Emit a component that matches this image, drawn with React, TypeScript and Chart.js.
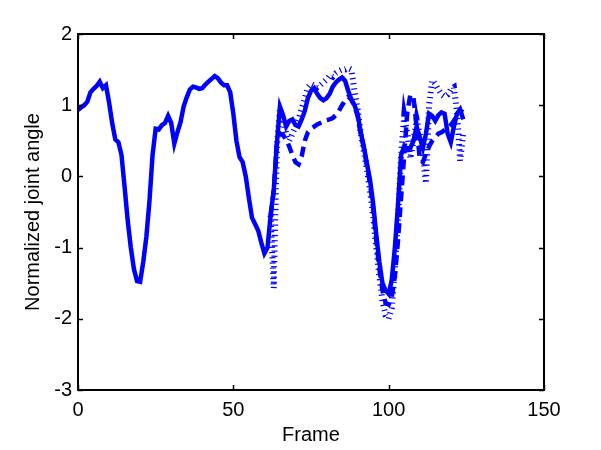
import React, { useEffect, useRef } from "react";
import { Chart, registerables } from "chart.js";

Chart.register(...registerables);

// ---- data ----
const truthStartFrame = 0;
const predictionStartFrame = 62;

const groundTruth = [
  0.93, 0.97, 1.0, 1.05, 1.18, 1.23, 1.27, 1.33, 1.24, 1.28,
  1.04, 0.75, 0.52, 0.48, 0.3, -0.15, -0.62, -1.0, -1.3, -1.47,
  -1.48, -1.2, -0.85, -0.35, 0.3, 0.67, 0.66, 0.72, 0.75, 0.85,
  0.75, 0.46, 0.62, 0.76, 0.98, 1.11, 1.22, 1.26, 1.25, 1.23,
  1.24, 1.29, 1.33, 1.37, 1.41, 1.38, 1.32, 1.28, 1.28, 1.18,
  0.88, 0.5, 0.27, 0.2, 0.0, -0.3, -0.58, -0.67, -0.76, -0.93,
  -1.08, -1.0, -0.55, -0.2, 0.45, 0.98, 0.86, 0.7, 0.78, 0.8,
  0.72, 0.7, 0.8, 0.92, 1.1, 1.2, 1.24, 1.16, 1.1, 1.07,
  1.1, 1.16, 1.26, 1.32, 1.36, 1.39, 1.34, 1.2, 1.08, 1.0,
  0.88, 0.62, 0.42, 0.18, -0.05, -0.38, -0.82, -1.2, -1.5, -1.6,
  -1.65, -1.45, -1.0, -0.4, 0.3, 0.42, 0.38, 0.4, 0.5, 0.7,
  0.55, 0.4, 0.6, 0.88, 0.85, 0.78, 0.86, 0.9, 0.88, 0.6,
  0.48, 0.7, 0.88, 0.94, 0.8,
];

const predictionDashed = [
  -0.55, -0.2, 0.45, 0.6, 0.58, 0.52, 0.42, 0.3,
  0.2, 0.17, 0.28, 0.5, 0.62, 0.67, 0.7, 0.73, 0.75, 0.77,
  0.79, 0.8, 0.82, 0.86, 0.92, 1.0, 1.07, 1.12, 1.08, 0.98,
  0.85, 0.6, 0.4, 0.15, -0.1, -0.45, -0.9, -1.3, -1.6, -1.78,
  -1.8, -1.7, -1.4, -0.9, -0.3, 0.3, 0.9, 1.15, 1.1, 0.7,
  0.25, 0.2, 0.32, 0.42, 0.5, 0.55, 0.6, 0.62, 0.65, 0.68,
  0.72, 0.78, 0.86, 0.92, 0.9,
];

const predictionDotted = [
  -0.55, -1.57, 0.4, 0.95, 0.8, 0.6, 0.5, 0.6,
  0.7, 0.8, 0.95, 1.1, 1.25, 1.3, 1.28, 1.25, 1.28, 1.32,
  1.36, 1.42, 1.4, 1.45, 1.48, 1.5, 1.5, 1.52, 1.5, 1.2,
  0.95, 0.6, 0.35, 0.1, -0.2, -0.55, -1.0, -1.4, -1.75, -1.95,
  -2.0, -1.85, -1.3, -0.6, 0.3, 0.85, 0.6, 0.25, 0.5, 0.8,
  0.6, 0.3, -0.1, 1.0, 1.35, 1.3, 1.22, 1.15, 1.12, 1.15,
  1.22, 1.25, 0.9, 0.22, 0.6,
];

const xTicks = [0, 50, 100, 150];
const yTicks = [-3, -2, -1, 0, 1, 2];
const xTitle = "Frame";
const yTitle = "Normalized joint angle";

function toPoints(start: number, values: number[]) {
  return values.map((v, i) => ({ x: start + i, y: v }));
}

const FONT_FAMILY = "'Liberation Sans', Arial, Helvetica, sans-serif";
const BLUE = "#0000ff";

const matlabAxes = {
  id: "matlabAxes",
  afterDatasetsDraw(chart: any) {
    const { ctx, chartArea, scales } = chart;
    const { left, right, top, bottom } = chartArea;
    const xs = scales.x;
    const ys = scales.y;
    ctx.save();
    ctx.strokeStyle = "#000";
    ctx.lineWidth = 1.5;
    ctx.beginPath();
    xTicks.forEach((t) => {
      const px = Math.round(xs.getPixelForValue(t)) + 0.5;
      ctx.moveTo(px, bottom);
      ctx.lineTo(px, bottom - 5);
      ctx.moveTo(px, top);
      ctx.lineTo(px, top + 5);
    });
    yTicks.forEach((t) => {
      const py = Math.round(ys.getPixelForValue(t)) + 0.5;
      ctx.moveTo(left, py);
      ctx.lineTo(left + 5, py);
      ctx.moveTo(right, py);
      ctx.lineTo(right - 5, py);
    });
    ctx.stroke();
    ctx.lineWidth = 2;
    ctx.strokeRect(left, top, right - left, bottom - top);
    ctx.restore();
  },
};

export default function App() {
  const canvasRef = useRef<HTMLCanvasElement | null>(null);

  useEffect(() => {
    const canvas = canvasRef.current;
    if (!canvas) return;
    const chart = new Chart(canvas, {
      type: "line",
      data: {
        datasets: [
          {
            label: "ground truth",
            data: toPoints(truthStartFrame, groundTruth),
            borderColor: BLUE,
            borderWidth: 4.5,
            pointRadius: 0,
            tension: 0,
            fill: false,
          },
          {
            label: "prediction A",
            data: toPoints(predictionStartFrame, predictionDashed),
            borderColor: BLUE,
            borderWidth: 4.5,
            borderDash: [10, 6],
            borderCapStyle: "butt",
            pointRadius: 0,
            tension: 0,
            fill: false,
          },
          {
            label: "prediction B",
            data: toPoints(predictionStartFrame, predictionDotted),
            borderColor: BLUE,
            borderWidth: 6,
            borderDash: [1.2, 4],
            borderCapStyle: "butt",
            pointRadius: 0,
            tension: 0,
            fill: false,
          },
        ],
      },
      options: {
        responsive: false,
        animation: false,
        devicePixelRatio: 1,
        layout: { padding: { left: 0, right: 57, top: 34, bottom: 0 } },
        plugins: {
          legend: { display: false },
          tooltip: { enabled: false },
        },
        scales: {
          x: {
            type: "linear",
            min: 0,
            max: 150,
            afterFit: (s: any) => {
              s.height = 60;
            },
            afterBuildTicks: (s: any) => {
              s.ticks = xTicks.map((v) => ({ value: v }));
            },
            ticks: {
              color: "#000",
              font: { family: FONT_FAMILY, size: 20 },
              padding: 8,
              maxRotation: 0,
            },
            grid: { display: false, drawTicks: false },
            border: { display: false },
            title: {
              display: true,
              text: xTitle,
              color: "#000",
              font: { family: FONT_FAMILY, size: 20 },
              padding: { top: 0, bottom: 3 },
            },
          },
          y: {
            type: "linear",
            min: -3,
            max: 2,
            afterFit: (s: any) => {
              s.width = 78;
            },
            afterBuildTicks: (s: any) => {
              s.ticks = yTicks.map((v) => ({ value: v }));
            },
            ticks: {
              color: "#000",
              font: { family: FONT_FAMILY, size: 20 },
              padding: 6,
            },
            grid: { display: false, drawTicks: false },
            border: { display: false },
            title: {
              display: true,
              text: yTitle,
              color: "#000",
              font: { family: FONT_FAMILY, size: 20 },
              padding: { top: 21, bottom: 0 },
            },
          },
        },
      },
      plugins: [matlabAxes],
    });
    return () => chart.destroy();
  }, []);

  return (
    <div style={{ position: "absolute", left: 0, top: 0, width: 601, height: 450, background: "#fff" }}>
      <canvas ref={canvasRef} width={601} height={450} style={{ display: "block" }} />
    </div>
  );
}
